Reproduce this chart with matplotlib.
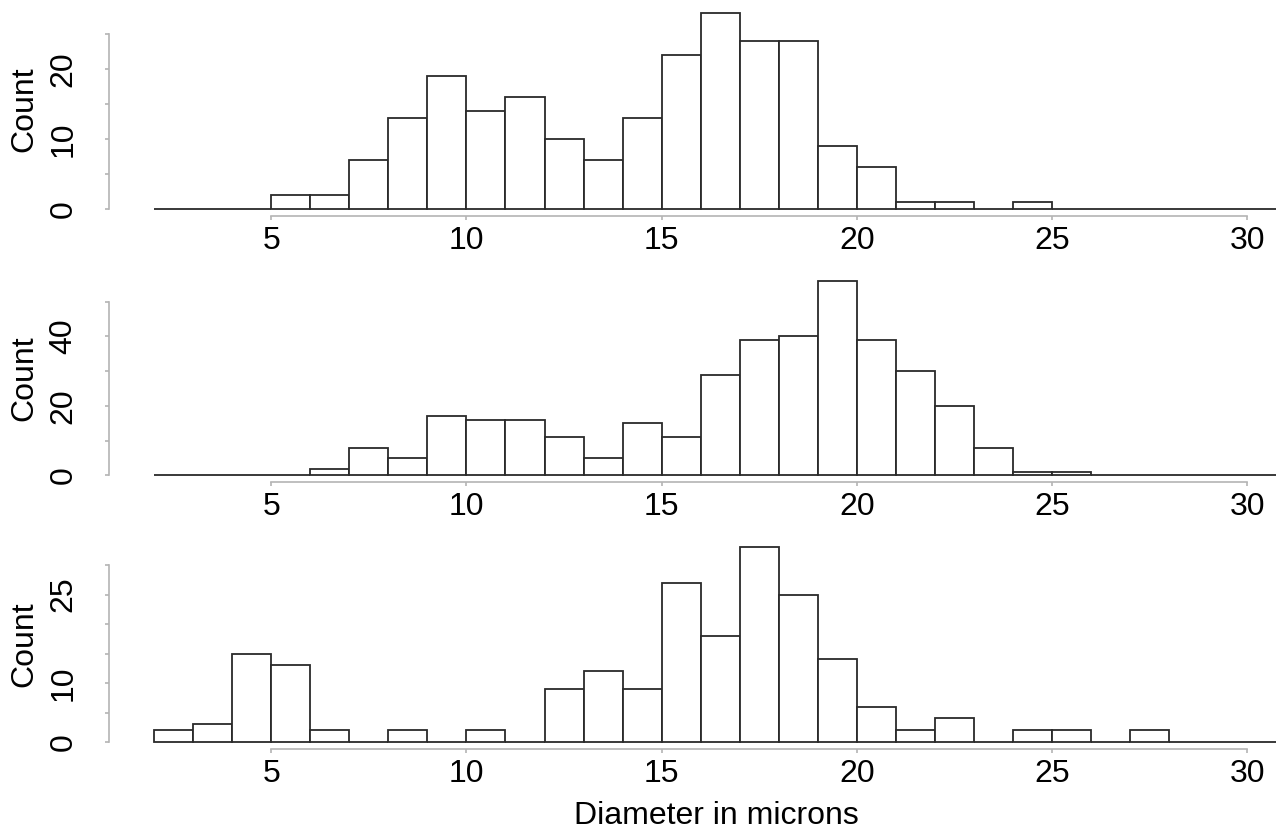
import numpy as np
import matplotlib
matplotlib.use("Agg")
import matplotlib.pyplot as plt

plt.rcParams['font.family'] = ['Liberation Sans', 'DejaVu Sans']

# bin edges, 1 micron wide
edges = np.arange(2, 32)
counts_top = [0, 0, 0, 2, 2, 7, 13, 19, 14, 16, 10, 7, 13, 22, 28, 24, 24, 9, 6, 1, 1, 0, 1, 0, 0, 0, 0, 0, 0]
counts_mid = [0, 0, 0, 0, 2, 8, 5, 17, 16, 16, 11, 5, 15, 11, 29, 39, 40, 56, 39, 30, 20, 8, 1, 1, 0, 0, 0, 0, 0]
counts_bot = [2, 3, 15, 13, 2, 0, 2, 0, 2, 0, 9, 12, 9, 27, 18, 33, 25, 14, 6, 2, 4, 0, 2, 2, 0, 2, 0, 0, 0]

x_ticks = [5, 10, 15, 20, 25, 30]
y_ticks_top = [0, 5, 10, 15, 20, 25]
y_labels_top = ['0', '', '10', '', '20', '']
y_ticks_mid = [0, 10, 20, 30, 40, 50]
y_labels_mid = ['0', '', '20', '', '40', '']
y_ticks_bot = [0, 5, 10, 15, 20, 25, 30]
y_labels_bot = ['0', '', '10', '', '', '25', '']

W, H = 1276, 830
fig = plt.figure(figsize=(W / 100, H / 100), dpi=100)

# (counts, yticks, labels, baseline px from top, px per count, ymax)
panels = [
    (counts_top, y_ticks_top, y_labels_top, 209, 7.0, 29),
    (counts_mid, y_ticks_mid, y_labels_mid, 475.5, 3.475, 57),
    (counts_bot, y_ticks_bot, y_labels_bot, 742, 5.9, 34),
]

px_per_x = 39.05
left_px = 154
xmax = 2 + (W - left_px) / px_per_x
grey = '#b4b4b4'
edge = '#2a2a2a'

for counts, yt, yl, base, ppc, ymax in panels:
    h = ymax * ppc
    ax = fig.add_axes([left_px / W, (H - base) / H, (W - left_px) / W, h / H])
    ax.bar(edges[:-1], counts, width=1, align='edge', facecolor='white',
           edgecolor=edge, linewidth=1.3, clip_on=False)
    ax.set_xlim(2, xmax)
    ax.set_ylim(0, ymax)
    for s in ['top', 'right']:
        ax.spines[s].set_visible(False)
    ax.spines['left'].set_position(('outward', 45 * 0.72))
    ax.spines['bottom'].set_position(('outward', 7 * 0.72))
    ax.spines['left'].set_bounds(yt[0], yt[-1])
    ax.spines['bottom'].set_bounds(x_ticks[0], x_ticks[-1])
    for s in ['left', 'bottom']:
        ax.spines[s].set_color(grey)
        ax.spines[s].set_linewidth(1.2)
    ax.set_xticks(x_ticks)
    ax.set_yticks(yt)
    ax.set_yticklabels(yl, rotation=90, va='center')
    ax.tick_params(axis='both', colors=grey, labelcolor='black', labelsize=23,
                   length=3, width=1.2)
    ax.tick_params(axis='y', pad=19)
    ax.tick_params(axis='x', pad=4)
    ax.set_facecolor('none')
    fig.text(24 / W, 1 - (base - h / 2 + 2) / H, 'Count', rotation=90,
             ha='center', va='center', fontsize=23)

fig.text(716 / W, 1 - 816 / H, 'Diameter in microns', ha='center', va='center',
         fontsize=23)

fig.savefig('out.png', dpi=100)
